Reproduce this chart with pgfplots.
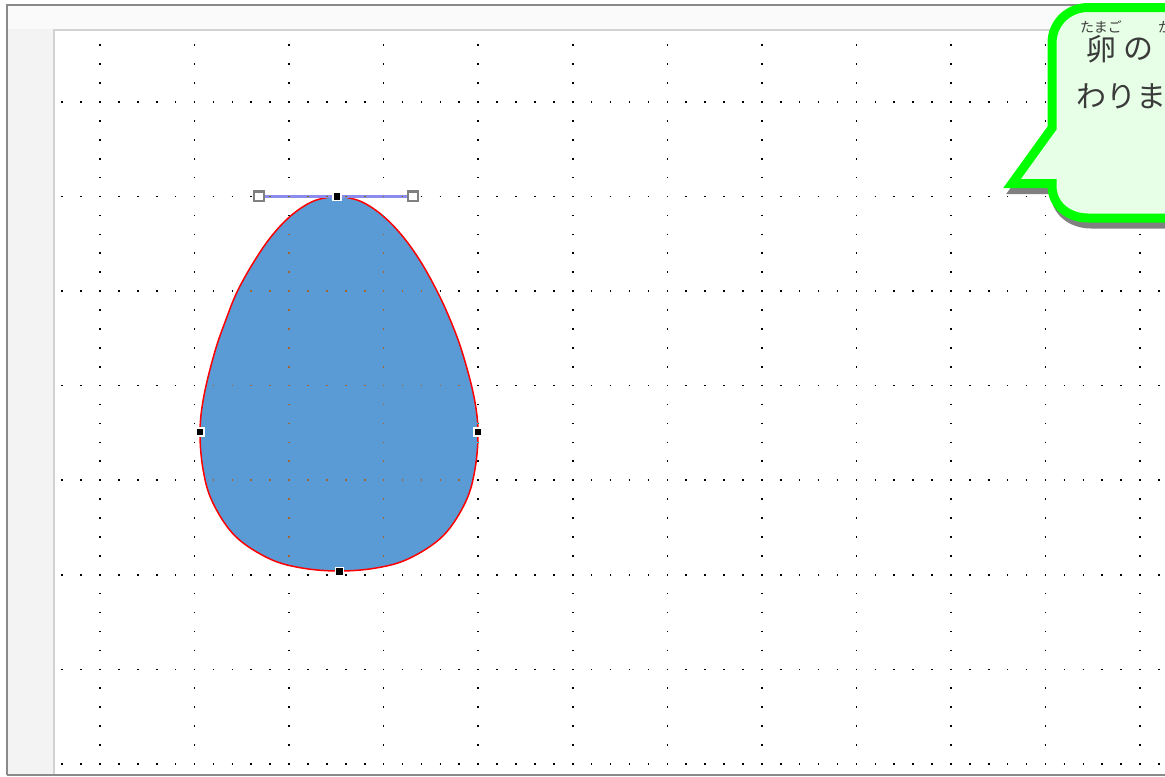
\documentclass[border=0pt]{standalone}
\usepackage{pgfplots}
\usepackage{pgfplotstable}
\pgfplotsset{compat=1.18}
\usepackage{fontspec}
\newfontfamily\jp{Noto Sans CJK JP}
\definecolor{eggblue}{HTML}{5B9BD5}
\definecolor{callfill}{HTML}{E6FFE6}
\definecolor{callgreen}{HTML}{00FF00}
\definecolor{shadowgray}{HTML}{808080}
\definecolor{framegray}{HTML}{8A8A8A}
\definecolor{pageborder}{HTML}{D2D2D2}
\definecolor{leftstrip}{HTML}{F3F3F3}
\definecolor{topstrip}{HTML}{FAFAFA}
\definecolor{handleblue}{HTML}{8C8CF0}
\definecolor{textgray}{HTML}{3A3A3A}

% egg outline (pixel coordinates, y downwards)
\pgfplotstableread{
x y
337 196
359.4 200.8
380.8 214.1
401 234.3
419.5 259.8
437 291
450.3 320
462 351.5
473.8 395.9
478 432
474.8 470.3
465.3 502.5
443 535.9
409.5 558.3
377.3 567.8
339 571
300.7 567.8
268.5 558.3
235 535.9
212.7 502.5
203.2 470.3
200 432
203.9 395.9
214.9 351.5
225.8 320
237.5 291
255.1 259.8
273 234.3
292.8 214.1
314.2 200.8
337 196
}\eggdata

\pgfplotsset{
  vdots/.style={white, line width=0.8pt, blend mode=difference,
     dash pattern=on 0.8pt off 8.655pt},
  hdots/.style={white, line width=0.8pt, blend mode=difference,
     dash pattern=on 0.8pt off 8.655pt on 0.8pt off 18.11pt on 0.8pt off 8.655pt on 0.8pt off 8.655pt},
}

\begin{document}
\begin{tikzpicture}
\begin{axis}[
  scale only axis, width=582.5pt, height=388pt,
  xmin=0, xmax=1165, ymin=0, ymax=776, y dir=reverse,
  hide axis, clip=true,
]
% application background
\fill[white] (0,0) rectangle (1165,776);
\fill[leftstrip] (7,5) rectangle (1165,775);
\fill[topstrip] (7,5) rectangle (1165,29);
\fill[white] (53,29) rectangle (1165,775);
\draw[pageborder, line width=1pt] (53.5,775) -- (53.5,29.5) -- (1165,29.5);
\draw[framegray, line width=1pt] (7,775) -- (7,5) -- (1165,5);
\draw[framegray, line width=1pt] (7,775) -- (1165,775);

% egg
\addplot[fill=eggblue, draw=red, line width=0.75pt, smooth, tension=0.6] table {\eggdata};
% tangent handle line
\addplot[handleblue, line width=1.4pt] coordinates {(259,196.3) (413,196.3)};

% dotted grid (vertical lines)
\addplot[vdots] coordinates {(100,44.47) (100,776)};
\addplot[vdots] coordinates {(194.55,44.47) (194.55,776)};
\addplot[vdots] coordinates {(289.1,44.47) (289.1,776)};
\addplot[vdots] coordinates {(383.65,44.47) (383.65,776)};
\addplot[vdots] coordinates {(478.2,44.47) (478.2,776)};
\addplot[vdots] coordinates {(572.75,44.47) (572.75,776)};
\addplot[vdots] coordinates {(667.3,44.47) (667.3,776)};
\addplot[vdots] coordinates {(761.85,44.47) (761.85,776)};
\addplot[vdots] coordinates {(856.4,44.47) (856.4,776)};
\addplot[vdots] coordinates {(950.95,44.47) (950.95,776)};
\addplot[vdots] coordinates {(1045.5,44.47) (1045.5,776)};
\addplot[vdots] coordinates {(1140.05,44.47) (1140.05,776)};
% dotted grid (horizontal lines)
\addplot[hdots] coordinates {(61.38,102) (1165,102)};
\addplot[hdots] coordinates {(61.38,196.55) (1165,196.55)};
\addplot[hdots] coordinates {(61.38,291.1) (1165,291.1)};
\addplot[hdots] coordinates {(61.38,385.65) (1165,385.65)};
\addplot[hdots] coordinates {(61.38,480.2) (1165,480.2)};
\addplot[hdots] coordinates {(61.38,574.75) (1165,574.75)};
\addplot[hdots] coordinates {(61.38,669.3) (1165,669.3)};
\addplot[hdots] coordinates {(61.38,763.85) (1165,763.85)};

% handles
\addplot[only marks, mark=square*, mark size=2.4pt,
  mark options={fill=white, draw=gray, line width=1.2pt}]
  coordinates {(259,196.3) (413,196.3)};
\addplot[only marks, mark=square*, mark size=2pt,
  mark options={fill=black, draw=white, line width=0.7pt}]
  coordinates {(337,196.3) (200,432) (478,432) (339.3,571.5)};

% callout shadow
\filldraw[shadowgray, line width=4.5pt, line join=miter]
  (1055,134) -- (1015,189.5) -- (1055,189.5) -- (1055,192)
  .. controls (1055,211) and (1071,224) .. (1091,224) -- (1230,224) -- (1230,13.5)
  -- (1091,13.5) .. controls (1071,13.5) and (1055,29) .. (1055,49) -- cycle;
% callout
\filldraw[draw=callgreen, fill=callfill, line width=4.5pt, line join=miter]
  (1052,128) -- (1012,183.5) -- (1052,183.5) -- (1052,186)
  .. controls (1052,205) and (1068,218) .. (1088,218) -- (1230,218) -- (1230,7.5)
  -- (1088,7.5) .. controls (1068,7.5) and (1052,23) .. (1052,43) -- cycle;

% text with ruby
\node[textgray, inner sep=0pt, font=\jp\fontsize{7pt}{8pt}\selectfont] at (1101,27) {たまご};
\node[textgray, inner sep=0pt, font=\jp\fontsize{7pt}{8pt}\selectfont] at (1179,27) {かたち};
\node[textgray, inner sep=0pt, font=\jp\fontsize{15pt}{18pt}\selectfont] at (1101,49) {卵};
\node[textgray, inner sep=0pt, font=\jp\fontsize{15pt}{18pt}\selectfont] at (1138,49) {の};
\node[textgray, inner sep=0pt, font=\jp\fontsize{15pt}{18pt}\selectfont] at (1181,49) {形};
\node[textgray, inner sep=0pt, anchor=west, font=\jp\fontsize{15pt}{18pt}\selectfont] at (1076,96) {わりました};
\end{axis}
\pgfresetboundingbox
\path[use as bounding box] (current axis.south west) rectangle (current axis.north east);
\end{tikzpicture}
\end{document}
